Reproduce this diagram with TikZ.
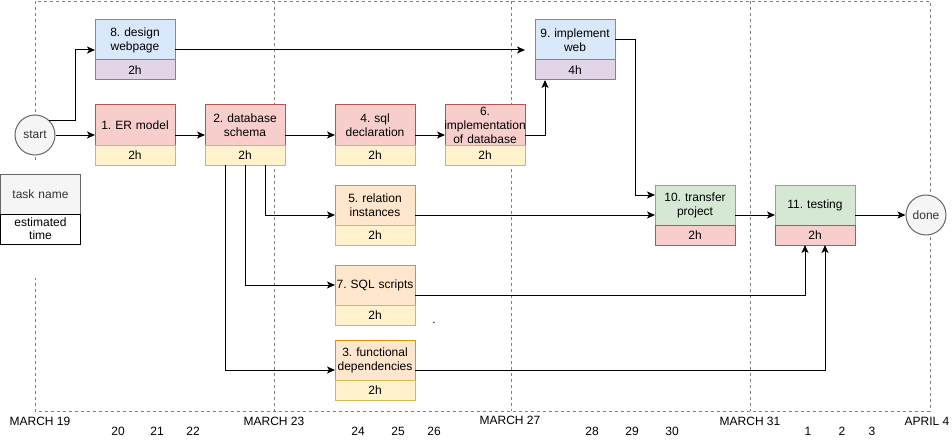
\documentclass[tikz,border=0pt]{standalone}
\usepackage{fontspec}
\setmainfont{Liberation Sans}
\usetikzlibrary{arrows.meta, calc}
\usepackage{xcolor}
\frenchspacing

\definecolor{bluefill}{HTML}{DAE8FC}
\definecolor{bluedraw}{HTML}{6C8EBF}
\definecolor{purplefill}{HTML}{E1D5E7}
\definecolor{purpledraw}{HTML}{9673A6}
\definecolor{redfill}{HTML}{F8CECC}
\definecolor{reddraw}{HTML}{B85450}
\definecolor{yellowfill}{HTML}{FFF2CC}
\definecolor{yellowdraw}{HTML}{D6B656}
\definecolor{orangefill}{HTML}{FFE6CC}
\definecolor{orangedraw}{HTML}{D79B00}
\definecolor{greenfill}{HTML}{D5E8D4}
\definecolor{greendraw}{HTML}{82B366}
\definecolor{greyfill}{HTML}{F5F5F5}
\definecolor{greydraw}{HTML}{666666}
\definecolor{greytext}{HTML}{333333}

\begin{document}
\begin{tikzpicture}[x=1pt, y=-1pt,
  every node/.style={font=\fontsize{12}{14}\selectfont},
  arr/.style={-{Stealth[length=8pt, width=7pt, inset=2pt]}, line width=1pt},
  frameline/.style={draw=gray, line width=0.8pt, dash pattern=on 3pt off 3pt},
  task/.style={draw, line width=1pt, minimum width=80pt, minimum height=40pt,
               text width=80pt, inner xsep=0pt, inner ysep=1pt, outer sep=0pt, align=center},
  hours/.style={draw, line width=1pt, minimum width=80pt, minimum height=20pt,
                inner sep=0pt, outer sep=0pt, anchor=north},
  bluetask/.style={task, fill=bluefill, draw=bluedraw},
  redtask/.style={task, fill=redfill, draw=reddraw},
  orangetask/.style={task, fill=orangefill, draw=orangedraw},
  greentask/.style={task, fill=greenfill, draw=greendraw},
  purplehours/.style={hours, fill=purplefill, draw=purpledraw},
  yellowhours/.style={hours, fill=yellowfill, draw=yellowdraw},
  redhours/.style={hours, fill=redfill, draw=reddraw},
  endpoint/.style={circle, draw=greydraw, fill=greyfill, text=greytext,
                   line width=1pt, minimum size=40pt, inner sep=0pt},
  datebig/.style={inner sep=0pt},
  datesmall/.style={inner sep=0pt}]

  \useasboundingbox (0,0) rectangle (952,441);

  % ----- time frame -----
  \draw[frameline] (35,160) -- (35,1) -- (930,1) -- (930,411) -- (35,411) -- (35,278);
  \draw[frameline] (274,1) -- (274,411);
  \draw[frameline] (511,1) -- (511,411);
  \draw[frameline] (750,1) -- (750,411);

  % ----- start / done -----
  \node[endpoint] (start) at (35,135) {start};
  \node[endpoint] (done) at (926,215) {done};

  % ----- legend -----
  \node[task, fill=greyfill, draw=greydraw, text=greytext] (key) at (40.5,194) {task name};
  \node[hours, draw=black, fill=white, minimum height=30pt, text width=78pt, align=center,
        font=\fontsize{12}{13}\selectfont] (keyh) at (key.south) {estimated\\time};

  % ----- tasks -----
  \node[bluetask] (t8) at (135,40) {8. design\\webpage};
  \node[purplehours] (t8h) at (t8.south) {2h};

  \node[redtask] (t1) at (135,125) {1. ER model};
  \node[yellowhours] (t1h) at (t1.south) {2h};

  \node[redtask] (t2) at (245,125) {2. database\\schema};
  \node[yellowhours] (t2h) at (t2.south) {2h};

  \node[redtask] (t4) at (375,125) {4. sql\\declaration};
  \node[yellowhours] (t4h) at (t4.south) {2h};

  \node[redtask] (t6) at (485,125) {6.\\\makebox[80pt]{implementation}\\of database};
  \node[yellowhours] (t6h) at (t6.south) {2h};

  \node[bluetask] (t9) at (575,40) {9. implement\\web};
  \node[purplehours] (t9h) at (t9.south) {4h};

  \node[orangetask] (t5) at (375,205) {5. relation\\instances};
  \node[yellowhours] (t5h) at (t5.south) {2h};

  \node[orangetask] (t7) at (375,285) {7. SQL scripts};
  \node[yellowhours] (t7h) at (t7.south) {2h};

  \node[orangetask] (t3) at (375,360) {3. functional\\dependencies};
  \node[yellowhours] (t3h) at (t3.south) {2h};

  \node[greentask] (t10) at (695,205) {10. transfer\\project};
  \node[redhours] (t10h) at (t10.south) {2h};

  \node[greentask] (t11) at (815,205) {11. testing};
  \node[redhours] (t11h) at (t11.south) {2h};

  \node (dot) at (434,323) {.};

  % ----- connectors -----
  \draw[arr] (start) -- ([yshift=-10pt]t1.west);
  \draw[arr] (start.north east) -- ++(26,0) |- ([yshift=-10pt]t8.west);
  \draw[arr] ([yshift=-10pt]t1.east) -- ([yshift=-10pt]t2.west);
  \draw[arr] ([yshift=-10pt]t2.east) -- ([yshift=-10pt]t4.west);
  \draw[arr] ([yshift=-10pt]t4.east) -- ([yshift=-10pt]t6.west);
  \draw[arr] ([yshift=-10pt]t6.east) -| ([xshift=-30pt]t9h.south);
  \draw[arr, shorten >=10pt] ([yshift=-10pt]t8.east) -- ([yshift=-10pt]t9.west);
  \draw[arr] (t9.east) -- ++(20,0) |- ([yshift=10pt]t10.west);
  \draw[arr] ([xshift=20pt]t2h.south) |- ([yshift=-10pt]t5.west);
  \draw[arr] (t2h.south) |- (t7.west);
  \draw[arr] ([xshift=-20pt]t2h.south) |- ([yshift=-10pt]t3.west);
  \draw[arr] ([yshift=-10pt]t5.east) -- ([yshift=-10pt]t10.west);
  \draw[arr] ([yshift=-10pt]t10.east) -- ([yshift=-10pt]t11.west);
  \draw[arr] ([yshift=-10pt]t7.east) -| ([xshift=-10pt]t11h.south);
  \draw[arr] ([yshift=-10pt]t3.east) -| ([xshift=10pt]t11h.south);
  \draw[arr] ([yshift=-10pt]t11.east) -- (done);

  % ----- dates -----
  \node[datebig] (m19) at (40,421) {MARCH 19};
  \node[datebig] (m23) at (274,421) {MARCH 23};
  \node[datebig] (m27) at (510,420) {MARCH 27};
  \node[datebig] (m31) at (750,421) {MARCH 31};
  \node[datebig] (a4) at (927,421) {APRIL 4};
  \node[datesmall] (d20) at (118,431) {20};
  \node[datesmall] (d21) at (157,431) {21};
  \node[datesmall] (d22) at (193,431) {22};
  \node[datesmall] (d24) at (358,431) {24};
  \node[datesmall] (d25) at (398,431) {25};
  \node[datesmall] (d26) at (434,431) {26};
  \node[datesmall] (d28) at (592,431) {28};
  \node[datesmall] (d29) at (632,431) {29};
  \node[datesmall] (d30) at (672,431) {30};
  \node[datesmall] (d1) at (808,431) {1};
  \node[datesmall] (d2) at (842,431) {2};
  \node[datesmall] (d3) at (872,431) {3};

\end{tikzpicture}
\end{document}
